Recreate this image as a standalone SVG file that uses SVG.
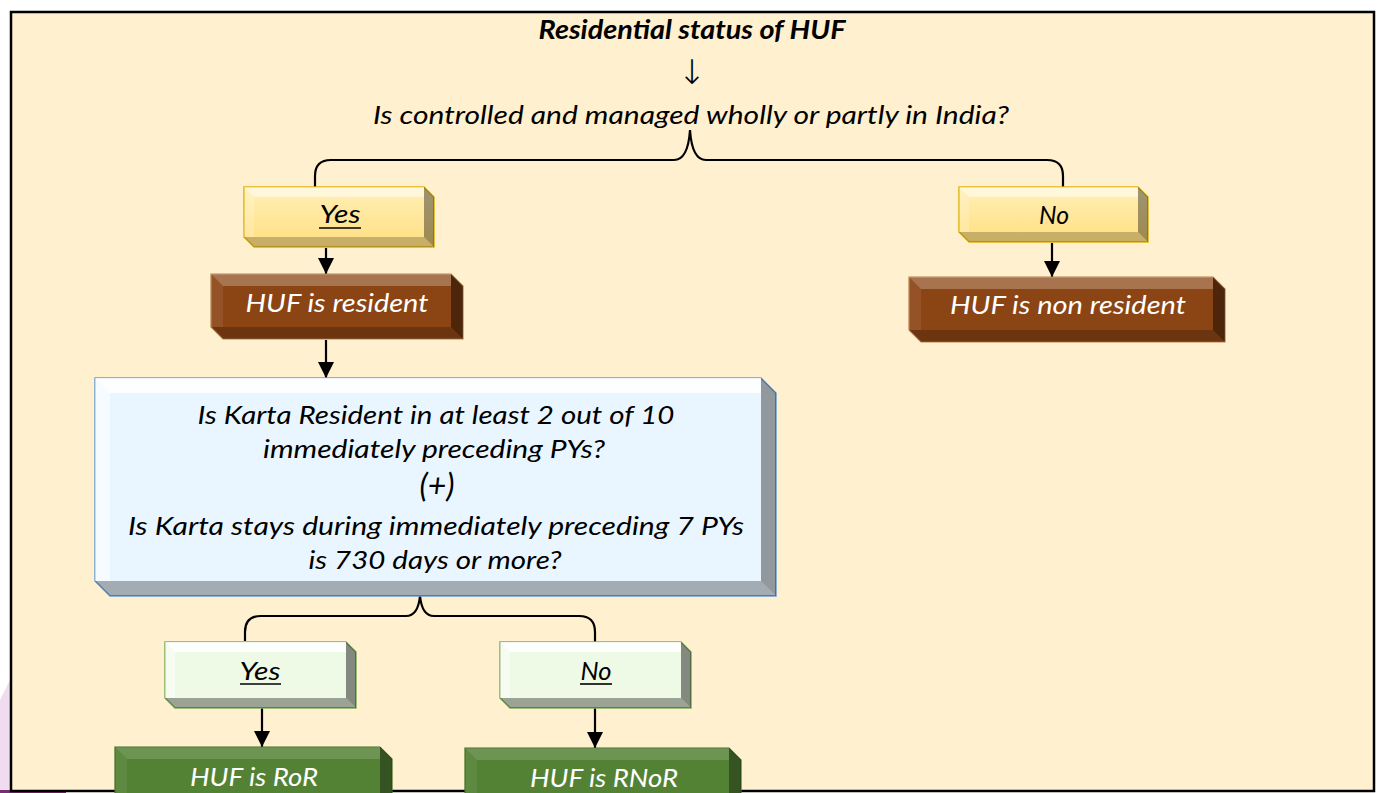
<svg xmlns="http://www.w3.org/2000/svg" width="1377" height="793" viewBox="0 0 1377 793">
  <style>
    .txt { font-family: "Lato", "Open Sans", "DejaVu Sans", sans-serif; font-style: italic; font-size: 26px; fill: #000; text-anchor: middle; }
    .title { font-weight: bold; font-size: 26px; }
    .big { font-size: 32px; }
    .light { fill: #ffffff; }
    .conn { fill: none; stroke: #000; stroke-width: 2.2; }
    .ul { stroke: #000; stroke-width: 1.6; }
    .hl-top { fill: #ffffff; fill-opacity: 0.5; }
    .hl-left { fill: #ffffff; fill-opacity: 0.18; }
    .sh-right { fill: #000000; fill-opacity: 0.38; }
    .sh-bot { fill: #000000; fill-opacity: 0.22; }
    .yellow .face { fill: url(#gYellow); stroke: #e2b20e; stroke-width: 1.5; }
    .brown .face { fill: #8b4414; stroke: #b8824e; stroke-width: 1.2; }
    .blue .face { fill: #eaf6ff; stroke: #6b9bd2; stroke-width: 1.5; }
    .lgreen .face { fill: #eefae6; stroke: #7fae5a; stroke-width: 1.5; }
    .dgreen .face { fill: #548235; stroke: #3f6a24; stroke-width: 1.2; }
  </style>
  <defs>
    <linearGradient id="gYellow" x1="0" y1="0" x2="0" y2="1">
      <stop offset="0" stop-color="#fff0b8"/>
      <stop offset="1" stop-color="#ffdf80"/>
    </linearGradient>
    <marker id="arrow" markerUnits="userSpaceOnUse" markerWidth="16" markerHeight="16" viewBox="0 0 14 14" refX="14" refY="7" orient="auto">
      <path d="M0,0 L14,7 L0,14 Z" fill="#000"/>
    </marker>
  </defs>

  <!-- page background -->
  <rect x="0" y="0" width="1377" height="793" fill="#ffffff"/>
  <path d="M0,700 L10,680 L10,793 L0,793 Z" fill="#f1dcef"/>
  <rect x="0" y="790" width="66" height="3" fill="#7a2c78"/>
  <rect x="11" y="12" width="1363" height="779" fill="#fff0cf" stroke="#000" stroke-width="2.5"/>

  <!-- headings -->
  <g id="heading">
    <text class="txt title" x="692" y="39" textLength="307" lengthAdjust="spacingAndGlyphs">Residential status of HUF</text>
    <text x="692" y="84" font-family="DejaVu Sans, sans-serif" font-size="34" font-weight="200" text-anchor="middle">↓</text>
    <text class="txt" x="691" y="124" textLength="636" lengthAdjust="spacingAndGlyphs">Is controlled and managed wholly or partly in India?</text>
  </g>

  <!-- connectors -->
  <g id="connectors">
    <path class="conn" d="M315,190 V176 Q315,160 331,160 H674 Q688,160 690,130 Q692,160 706,160 H1047 Q1063,160 1063,176 V190"/>
    <path class="conn" d="M245,641 V632 Q245,616 261,616 H406 Q418,616 420,596 Q422,616 434,616 H579 Q595,616 595,632 V642"/>
    <line class="conn" x1="326" y1="248" x2="326" y2="274" marker-end="url(#arrow)"/>
    <line class="conn" x1="326" y1="340" x2="326" y2="378" marker-end="url(#arrow)"/>
    <line class="conn" x1="1052" y1="243" x2="1052" y2="277" marker-end="url(#arrow)"/>
    <line class="conn" x1="262" y1="708" x2="262" y2="747" marker-end="url(#arrow)"/>
    <line class="conn" x1="595" y1="708" x2="595" y2="748" marker-end="url(#arrow)"/>
  </g>

  <!-- Yes (India control) : x244 y187 w190 h60 d10 -->
  <g id="yes-india" class="yellow">
    <path class="face" d="M244,187 H424 L434,197 V247 H254 L244,237 Z"/>
    <path class="hl-top" d="M244,187 H424 V197 H254 Z"/>
    <path class="hl-left" d="M244,187 L254,197 V237 H244 Z"/>
    <path class="sh-right" d="M424,187 L434,197 V247 L424,237 Z"/>
    <path class="sh-bot" d="M254,237 H424 L434,247 H254 L244,237 Z"/>
    <text class="txt" x="340" y="223" textLength="41" lengthAdjust="spacingAndGlyphs">Yes</text>
    <line class="ul" x1="319" y1="228" x2="361" y2="228"/>
  </g>

  <!-- HUF is resident : x211 y274 w252 h65 d12 -->
  <g id="huf-resident" class="brown">
    <path class="face" d="M211,274 H451 L463,286 V339 H223 L211,327 Z"/>
    <path class="hl-top" style="fill-opacity:0.25" d="M211,274 H451 V286 H223 Z"/>
    <path class="hl-left" style="fill-opacity:0.08" d="M211,274 L223,286 V327 H211 Z"/>
    <path class="sh-right" style="fill-opacity:0.45" d="M451,274 L463,286 V339 L451,327 Z"/>
    <path class="sh-bot" d="M223,327 H451 L463,339 H223 L211,327 Z"/>
    <text class="txt light" x="337" y="312" textLength="183" lengthAdjust="spacingAndGlyphs">HUF is resident</text>
  </g>

  <!-- No (India control) : x959 y187 w189 h55 d10 -->
  <g id="no-india" class="yellow">
    <path class="face" d="M959,187 H1138 L1148,197 V242 H969 L959,232 Z"/>
    <path class="hl-top" d="M959,187 H1138 V197 H969 Z"/>
    <path class="hl-left" d="M959,187 L969,197 V232 H959 Z"/>
    <path class="sh-right" d="M1138,187 L1148,197 V242 L1138,232 Z"/>
    <path class="sh-bot" d="M969,232 H1138 L1148,242 H969 L959,232 Z"/>
    <text class="txt" x="1054" y="224" textLength="30" lengthAdjust="spacingAndGlyphs">No</text>
  </g>

  <!-- HUF is non resident : x909 y277 w316 h65 d12 -->
  <g id="huf-non-resident" class="brown">
    <path class="face" d="M909,277 H1213 L1225,289 V342 H921 L909,330 Z"/>
    <path class="hl-top" style="fill-opacity:0.25" d="M909,277 H1213 V289 H921 Z"/>
    <path class="hl-left" style="fill-opacity:0.08" d="M909,277 L921,289 V330 H909 Z"/>
    <path class="sh-right" style="fill-opacity:0.45" d="M1213,277 L1225,289 V342 L1213,330 Z"/>
    <path class="sh-bot" d="M921,330 H1213 L1225,342 H921 L909,330 Z"/>
    <text class="txt light" x="1068" y="314" textLength="236" lengthAdjust="spacingAndGlyphs">HUF is non resident</text>
  </g>

  <!-- Karta test : x95 y378 w681 h218 d15 -->
  <g id="karta-test" class="blue">
    <path class="face" d="M95,378 H761 L776,393 V596 H110 L95,581 Z"/>
    <path class="hl-top" style="fill-opacity:0.85" d="M95,378 H761 V393 H110 Z"/>
    <path class="hl-left" style="fill-opacity:0.5" d="M95,378 L110,393 V581 H95 Z"/>
    <path class="sh-right" d="M761,378 L776,393 V596 L761,581 Z"/>
    <path class="sh-bot" style="fill-opacity:0.3" d="M110,581 H761 L776,596 H110 L95,581 Z"/>
    <text class="txt" x="436" y="424" textLength="477" lengthAdjust="spacingAndGlyphs">Is Karta Resident in at least 2 out of 10</text>
    <text class="txt" x="434" y="458" textLength="342" lengthAdjust="spacingAndGlyphs">immediately preceding PYs?</text>
    <text class="txt big" x="437" y="497">(+)</text>
    <text class="txt" x="436" y="535" textLength="616" lengthAdjust="spacingAndGlyphs">Is Karta stays during immediately preceding 7 PYs</text>
    <text class="txt" x="435" y="569" textLength="253" lengthAdjust="spacingAndGlyphs">is 730 days or more?</text>
  </g>

  <!-- Yes (Karta test) : x165 y642 w191 h66 d10 -->
  <g id="yes-karta" class="lgreen">
    <path class="face" d="M165,642 H346 L356,652 V708 H175 L165,698 Z"/>
    <path class="hl-top" style="fill-opacity:0.85" d="M165,642 H346 V652 H175 Z"/>
    <path class="hl-left" style="fill-opacity:0.45" d="M165,642 L175,652 V698 H165 Z"/>
    <path class="sh-right" style="fill-opacity:0.45" d="M346,642 L356,652 V708 L346,698 Z"/>
    <path class="sh-bot" style="fill-opacity:0.35" d="M175,698 H346 L356,708 H175 L165,698 Z"/>
    <text class="txt" x="260" y="680" textLength="41" lengthAdjust="spacingAndGlyphs">Yes</text>
    <line class="ul" x1="240" y1="684" x2="281" y2="684"/>
  </g>

  <!-- No (Karta test) : x500 y642 w191 h66 d10 -->
  <g id="no-karta" class="lgreen">
    <path class="face" d="M500,642 H681 L691,652 V708 H510 L500,698 Z"/>
    <path class="hl-top" style="fill-opacity:0.85" d="M500,642 H681 V652 H510 Z"/>
    <path class="hl-left" style="fill-opacity:0.45" d="M500,642 L510,652 V698 H500 Z"/>
    <path class="sh-right" style="fill-opacity:0.45" d="M681,642 L691,652 V708 L681,698 Z"/>
    <path class="sh-bot" style="fill-opacity:0.35" d="M510,698 H681 L691,708 H510 L500,698 Z"/>
    <text class="txt" x="596" y="680" textLength="31" lengthAdjust="spacingAndGlyphs">No</text>
    <line class="ul" x1="580" y1="684" x2="612" y2="684"/>
  </g>

  <!-- HUF is RoR : x115 y747 w277 -->
  <g id="huf-ror" class="dgreen">
    <path class="face" d="M115,747 H380 L392,759 V800 H115 Z"/>
    <path class="hl-top" style="fill-opacity:0.15" d="M115,747 H380 V759 H127 Z"/>
    <path class="hl-left" style="fill-opacity:0.06" d="M115,747 L127,759 V800 H115 Z"/>
    <path class="sh-right" style="fill-opacity:0.35" d="M380,747 L392,759 V800 H380 Z"/>
    <text class="txt light" x="254" y="786" textLength="128" lengthAdjust="spacingAndGlyphs">HUF is RoR</text>
  </g>

  <!-- HUF is RNoR : x465 y748 w276 -->
  <g id="huf-rnor" class="dgreen">
    <path class="face" d="M465,748 H729 L741,760 V800 H465 Z"/>
    <path class="hl-top" style="fill-opacity:0.15" d="M465,748 H729 V760 H477 Z"/>
    <path class="hl-left" style="fill-opacity:0.06" d="M465,748 L477,760 V800 H465 Z"/>
    <path class="sh-right" style="fill-opacity:0.35" d="M729,748 L741,760 V800 H729 Z"/>
    <text class="txt light" x="604" y="787" textLength="148" lengthAdjust="spacingAndGlyphs">HUF is RNoR</text>
  </g>
</svg>
